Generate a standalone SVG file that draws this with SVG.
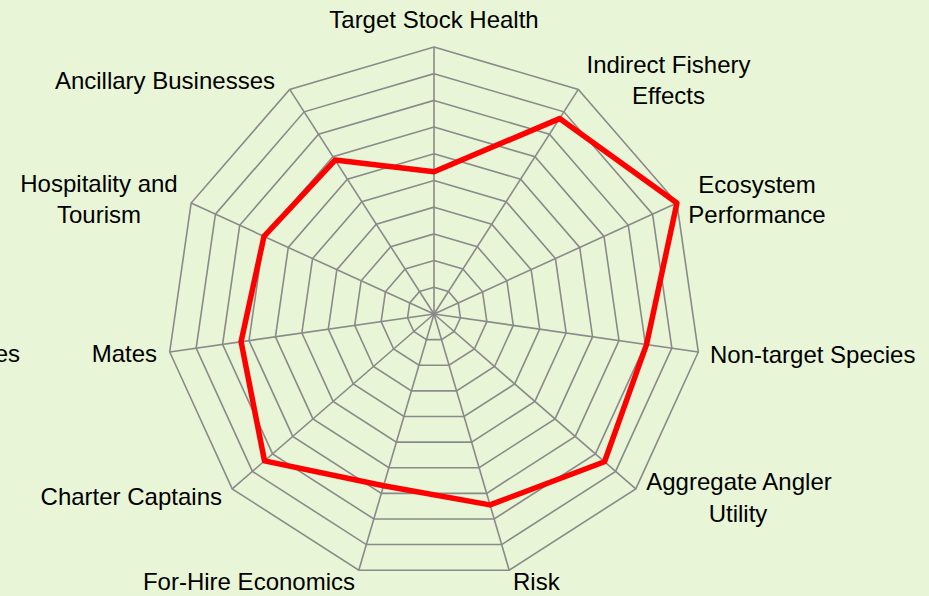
<svg xmlns="http://www.w3.org/2000/svg" xmlns:xlink="http://www.w3.org/1999/xlink" width="929" height="596" viewBox="0 0 929 596">
<style>
.grid{fill:none;stroke:#8a8a8a;stroke-width:1.6;vector-effect:non-scaling-stroke}
.spoke{stroke:#8a8a8a;stroke-width:1.6}
.series{fill:none;stroke:#ff0000;stroke-width:5.5;stroke-linejoin:round}
.lbl{font-family:"Liberation Sans",Arial,sans-serif;font-size:24px;fill:#000}
.m{text-anchor:middle}.e{text-anchor:end}.s{text-anchor:start}
</style>
<defs>
<polygon id="ring" class="grid" points="0,-100 54.06,-84.13 90.96,-41.54 98.98,14.23 75.57,65.49 28.17,95.95 -28.17,95.95 -75.57,65.49 -98.98,14.23 -90.96,-41.54 -54.06,-84.13"/>
</defs>
<rect width="929" height="596" fill="#e9f5d7"/>
<g id="grid-rings">
<use xlink:href="#ring" transform="translate(434,314) scale(0.267)"/>
<use xlink:href="#ring" transform="translate(434,314) scale(0.534)"/>
<use xlink:href="#ring" transform="translate(434,314) scale(0.801)"/>
<use xlink:href="#ring" transform="translate(434,314) scale(1.068)"/>
<use xlink:href="#ring" transform="translate(434,314) scale(1.335)"/>
<use xlink:href="#ring" transform="translate(434,314) scale(1.602)"/>
<use xlink:href="#ring" transform="translate(434,314) scale(1.869)"/>
<use xlink:href="#ring" transform="translate(434,314) scale(2.136)"/>
<use xlink:href="#ring" transform="translate(434,314) scale(2.403)"/>
<use xlink:href="#ring" transform="translate(434,314) scale(2.67)"/>
</g>
<g id="connectors">
<line class="spoke" x1="434" y1="314" x2="434" y2="47"/>
<line class="spoke" x1="434" y1="314" x2="578.3" y2="89.4"/>
<line class="spoke" x1="434" y1="314" x2="676.9" y2="203.1"/>
<line class="spoke" x1="434" y1="314" x2="698.3" y2="352"/>
<line class="spoke" x1="434" y1="314" x2="635.8" y2="488.9"/>
<line class="spoke" x1="434" y1="314" x2="509.2" y2="570.2"/>
<line class="spoke" x1="434" y1="314" x2="358.8" y2="570.2"/>
<line class="spoke" x1="434" y1="314" x2="232.2" y2="488.9"/>
<line class="spoke" x1="434" y1="314" x2="169.7" y2="352"/>
<line class="spoke" x1="434" y1="314" x2="191.1" y2="203.1"/>
<line class="spoke" x1="434" y1="314" x2="289.7" y2="89.4"/>
</g>
<g id="series">
<polygon class="series" points="434,171.7 559.6,118.6 676.9,203.1 646.5,344.6 604.5,461.7 490,504.9 383.6,485.7 264.5,460.9 241.1,341.7 264,236.4 335.1,160.1"/>
</g>
<g id="label-target-stock-health"><text class="lbl m" x="434" y="28">Target Stock Health</text></g>
<g id="label-indirect-fishery-effects"><text class="lbl m" x="668.5" y="72.5">Indirect Fishery</text><text class="lbl m" x="668.5" y="103.5">Effects</text></g>
<g id="label-ecosystem-performance"><text class="lbl m" x="757" y="192.5">Ecosystem</text><text class="lbl m" x="757" y="222.5">Performance</text></g>
<g id="label-non-target-species"><text class="lbl s" x="710" y="363">Non-target Species</text></g>
<g id="label-aggregate-angler-utility"><text class="lbl m" x="739" y="490">Aggregate Angler</text><text class="lbl m" x="738" y="522">Utility</text></g>
<g id="label-risk"><text class="lbl s" x="513" y="590">Risk</text></g>
<g id="label-for-hire-economics"><text class="lbl e" x="355" y="590">For-Hire Economics</text></g>
<g id="label-charter-captains"><text class="lbl e" x="222" y="505">Charter Captains</text></g>
<g id="label-mates"><text class="lbl e" x="157" y="362">Mates</text></g>
<g id="label-cut-off"><text class="lbl e" x="20" y="362">es</text></g>
<g id="label-hospitality-and-tourism"><text class="lbl m" x="99" y="192">Hospitality and</text><text class="lbl m" x="99" y="222.5">Tourism</text></g>
<g id="label-ancillary-businesses"><text class="lbl e" x="275" y="89">Ancillary Businesses</text></g>
</svg>
